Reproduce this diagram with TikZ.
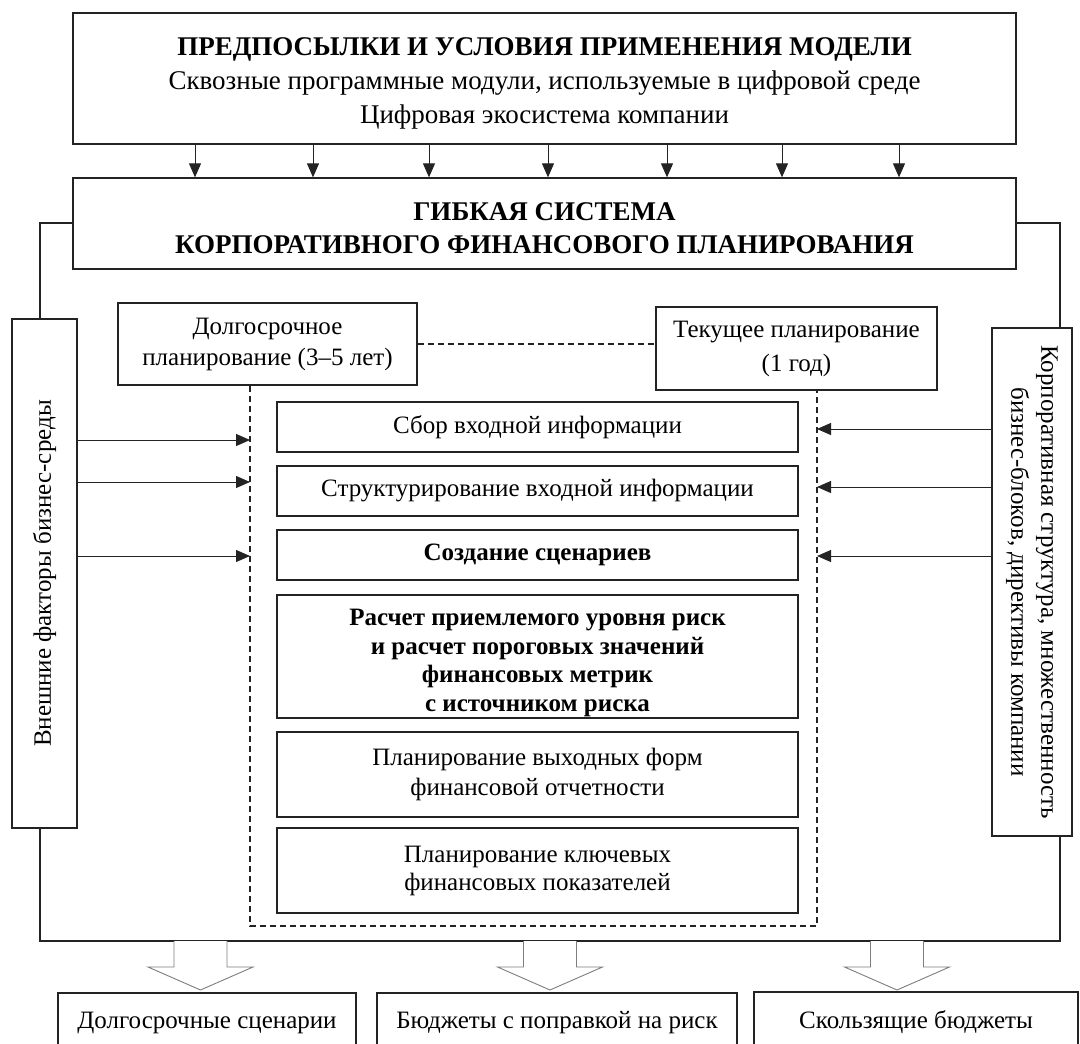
\documentclass[tikz,border=0pt]{standalone}
\usepackage{fontspec}
\setmainfont{Liberation Serif}
\definecolor{linegray}{RGB}{35,35,35}
\definecolor{arrowgray}{RGB}{125,125,125}
\usetikzlibrary{arrows.meta}
\usetikzlibrary{positioning}
\newcommand{\topgap}[1]{\rule{0pt}{#1}}
\tikzset{
  box/.style={draw=linegray, line width=1.3pt, fill=white, inner sep=0pt, align=center,
    font=\fontsize{25}{30}\selectfont},
  flow/.style={draw=linegray, line width=1pt, -{Triangle[length=14pt,width=12pt]}},
  wire/.style={draw=linegray, line width=1.3pt},
  dashline/.style={draw=linegray, line width=1.2pt, dash pattern=on 6pt off 4pt},
  hollow/.style={draw=arrowgray, line width=0.9pt, fill=white}
}

\begin{document}
\begin{tikzpicture}[x=1pt,y=-1pt]
  \useasboundingbox (0,0) rectangle (1080,1044);

  \node[box, minimum width=943pt, minimum height=131pt, font=\fontsize{27}{34}\selectfont] (prem) at (544.5,78.5)
    {\topgap{28pt}\textbf{ПРЕДПОСЫЛКИ И УСЛОВИЯ ПРИМЕНЕНИЯ МОДЕЛИ}\\
     Сквозные программные модули, используемые в цифровой среде\\
     Цифровая экосистема компании};
  \node[box, minimum width=943pt, minimum height=91pt, font=\fontsize{27}{33}\selectfont\bfseries] (gibk) at (544.5,223.5)
    {\topgap{28pt}ГИБКАЯ СИСТЕМА\\ КОРПОРАТИВНОГО ФИНАНСОВОГО ПЛАНИРОВАНИЯ};

  % side boxes
  \node[box, rotate=90, minimum width=509pt, minimum height=65pt] (vnesh) at (44.5,573.5)
    {Внешние факторы бизнес-среды};
  \node[box, rotate=-90, minimum width=508pt, minimum height=80pt] (korp) at (1032,582)
    {Корпоративная структура, множественность\\ бизнес-блоков, директивы компании};

  \node[box, minimum width=299pt, minimum height=82pt, font=\fontsize{25}{31}\selectfont] (dolg) at (267.5,344)
    {Долгосрочное\\ планирование (3--5 лет)};
  \node[box, minimum width=281pt, minimum height=83pt, font=\fontsize{25}{34}\selectfont] (tek) at (796.5,348.5)
    {Текущее планирование\\ (1 год)};

  % stages
  \node[box, minimum width=521pt, minimum height=50pt] (sbor) at (537.5,427) {Сбор входной информации};
  \node[box, minimum width=521pt, minimum height=50pt] (strukt) at (537.5,491) {Структурирование входной информации};
  \node[box, minimum width=521pt, minimum height=50pt, font=\fontsize{25}{30}\selectfont\bfseries] (scen) at (537.5,555) {Создание сценариев};
  \node[box, minimum width=521pt, minimum height=123pt, font=\fontsize{25}{28.5}\selectfont\bfseries] (rasch) at (537.5,656.5)
    {\topgap{29pt}Расчет приемлемого уровня риск\\ и расчет пороговых значений\\ финансовых метрик\\ с источником риска};
  \node[box, minimum width=521pt, minimum height=85pt] (vyh) at (537.5,774.5)
    {Планирование выходных форм\\ финансовой отчетности};
  \node[box, minimum width=521pt, minimum height=85pt, font=\fontsize{25}{28}\selectfont] (kpi) at (537.5,870.5)
    {Планирование ключевых\\ финансовых показателей};

  % results
  \node[box, minimum width=298pt, minimum height=60pt] (res1) at (207,1023) {Долгосрочные сценарии};
  \node[box, minimum width=360pt, minimum height=60pt] (res2) at (557,1023) {Бюджеты с поправкой на риск};
  \node[box, minimum width=324pt, minimum height=60pt] (res3) at (916,1022) {Скользящие бюджеты};

  \coordinate (dl) at (250,926);
  \coordinate (dr) at (817,926);
  \coordinate (lc) at (40,941);
  \coordinate (rc) at (1060,941);

  \foreach \xx in {195,313,429,548,667,782,899}
    \draw[flow] (prem.south -| \xx,0) -- (gibk.north -| \xx,0);

  \draw[dashline] (dolg.east) -- (dolg.east -| tek.west);
  \draw[dashline] (dolg.south -| dl) -- (dl) -- (dr) -- (tek.south -| dr);

  \foreach \yy in {440,482,556}
    \draw[flow] (vnesh.south |- 0,\yy) -- (dl |- 0,\yy);
  \foreach \yy in {429,487,556}
    \draw[flow] (korp.south |- 0,\yy) -- (dr |- 0,\yy);

  \draw[wire] (gibk.west |- 0,223) -| (lc |- vnesh.east);
  \draw[wire] (gibk.east |- 0,223) -| (rc |- korp.west);
  \draw[wire] (lc |- vnesh.west) -- (lc) -- (rc) -- (rc |- korp.east);

  \foreach \xx in {200.5,550,897}
    \draw[hollow] (\xx-26.5,941) -- (\xx-26.5,967) -- (\xx-52.5,967) -- (\xx,990)
      -- (\xx+52.5,967) -- (\xx+26.5,967) -- (\xx+26.5,941);
\end{tikzpicture}
\end{document}
